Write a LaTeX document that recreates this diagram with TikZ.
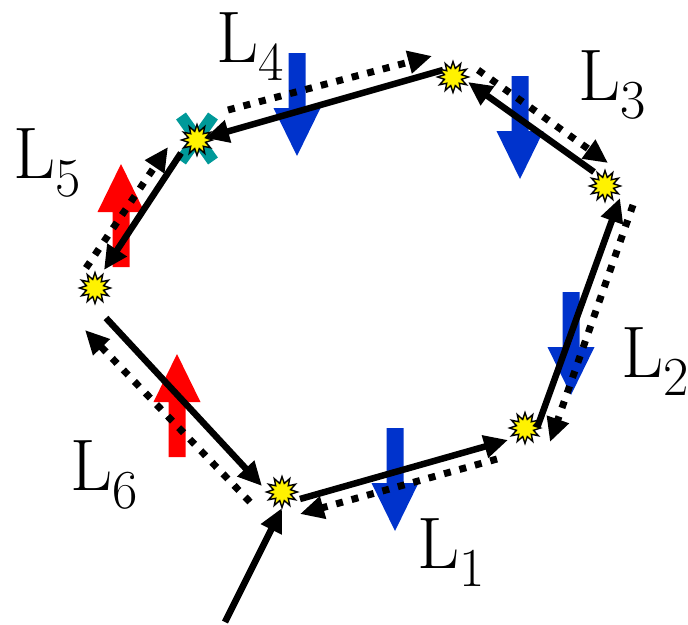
\documentclass[tikz,border=0pt]{standalone}
\usetikzlibrary{arrows.meta,shapes.geometric}
\definecolor{flowblue}{RGB}{0,51,204}
\definecolor{flowred}{RGB}{255,0,0}
\definecolor{xteal}{RGB}{0,153,153}
\tikzset{
  burst/.style={star, star points=12, star point ratio=1.75, minimum size=31pt,
    inner sep=0pt, fill=yellow, draw=black, line width=1.4pt},
  solidarr/.style={line width=6.5pt, -{Triangle[length=24pt,width=22pt]}},
  dotarr/.style={line width=7pt, dash pattern=on 7pt off 9pt,
    -{Triangle[length=24pt,width=22pt]}},
  lbl/.style={anchor=base west, inner sep=0pt, font=\fontsize{73}{80}\selectfont},
  pics/blk/.style={code={
    \fill[#1] (-8.5,0) -- (8.5,0) -- (8.5,55) -- (23.5,55) -- (0,103)
      -- (-23.5,55) -- (-8.5,55) -- cycle;}}
}
\newcommand{\lab}[1]{L\raisebox{-18pt}{\fontsize{55}{60}\selectfont #1}}
\begin{document}
\begin{tikzpicture}[x=1pt,y=-1pt]
\useasboundingbox (0,0) rectangle (688,624);
% teal X mark
\draw[xteal, line width=12pt] (181,116) -- (213,161);
\draw[xteal, line width=12pt] (213,116) -- (181,161);
% block arrows
\pic at (395,428) {blk=flowblue};
\pic at (571,292) {blk=flowblue};
\pic at (520,76) {blk=flowblue};
\pic at (297,53) {blk=flowblue};
\pic[yscale=-1] at (121,267) {blk=flowred};
\pic[yscale=-1] at (177,457) {blk=flowred};
% coordinates of connector ends
\coordinate (in0) at (225,622);  \coordinate (in1) at (282,508);
\coordinate (a1) at (300,499);   \coordinate (b1) at (508,440);
\coordinate (c1) at (497,459);   \coordinate (d1) at (300,514);
\coordinate (a2) at (537,428);   \coordinate (b2) at (620,198);
\coordinate (c2) at (633,205);   \coordinate (d2) at (550,442);
\coordinate (a3) at (594,172);   \coordinate (b3) at (468,82);
\coordinate (c3) at (478,70);    \coordinate (d3) at (608,163);
\coordinate (a4) at (443,70);    \coordinate (b4) at (205,138);
\coordinate (c4) at (228,110);   \coordinate (d4) at (432,56);
\coordinate (a5) at (181,153);   \coordinate (b5) at (104,270);
\coordinate (c5) at (86,268);    \coordinate (d5) at (168,147);
\coordinate (a6) at (106,318);   \coordinate (b6) at (262,486);
\coordinate (c6) at (250,502);   \coordinate (d6) at (85,330);
% connectors
\draw[solidarr] (in0) -- (in1);
\draw[solidarr] (a1) -- (b1);  \draw[dotarr] (c1) -- (d1);
\draw[solidarr] (a2) -- (b2);  \draw[dotarr] (c2) -- (d2);
\draw[solidarr] (a3) -- (b3);  \draw[dotarr] (c3) -- (d3);
\draw[solidarr] (a4) -- (b4);  \draw[dotarr] (c4) -- (d4);
\draw[solidarr] (a5) -- (b5);  \draw[dotarr] (c5) -- (d5);
\draw[solidarr] (a6) -- (b6);  \draw[dotarr] (c6) -- (d6);
% bus nodes
\node[burst] (s1) at (282,492) {};
\node[burst] (s2) at (525,428) {};
\node[burst] (s3) at (605,186) {};
\node[burst] (s4) at (453,77) {};
\node[burst] (s5) at (197,140) {};
\node[burst] (s6) at (95,288) {};
% labels
\node[lbl] (l1) at (417,568) {\lab{1}};
\node[lbl] (l2) at (621,377) {\lab{2}};
\node[lbl] (l3) at (578,100) {\lab{3}};
\node[lbl] (l4) at (216,62) {\lab{4}};
\node[lbl] (l5) at (13,178) {\lab{5}};
\node[lbl] (l6) at (70,490) {\lab{6}};
\end{tikzpicture}
\end{document}
